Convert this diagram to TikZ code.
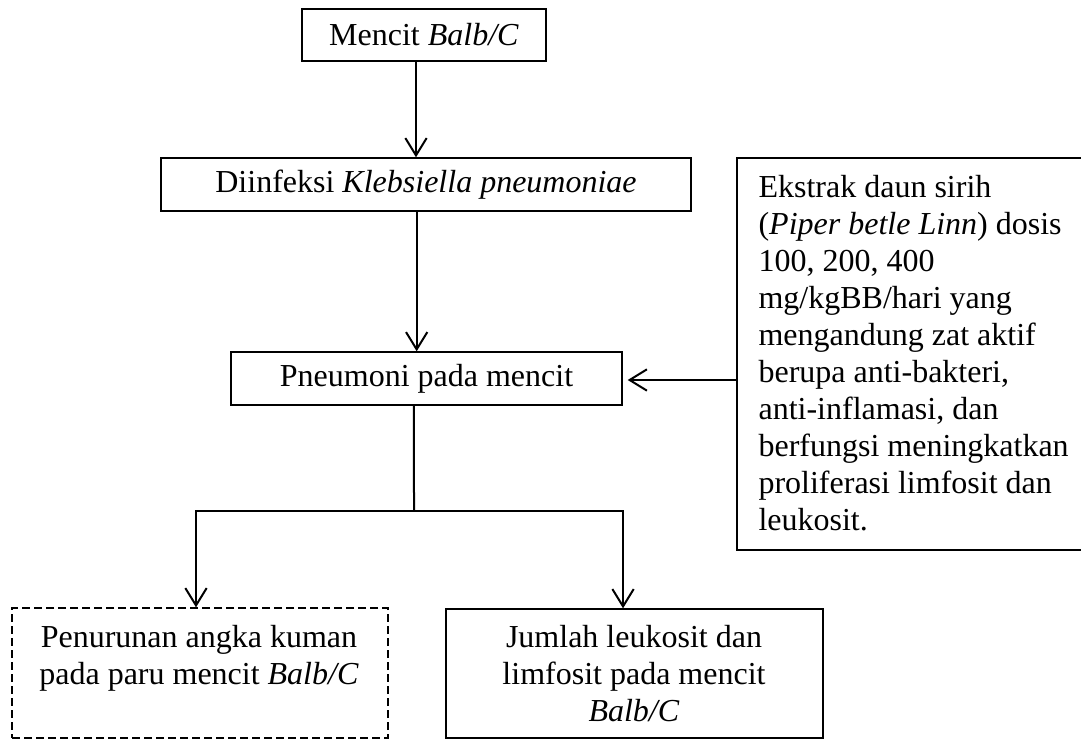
\documentclass[tikz,border=0pt]{standalone}
\usepackage{fontspec}
\setmainfont{Liberation Serif}
\usetikzlibrary{arrows.meta}
\tikzset{
  box/.style={draw, line width=0.5pt, inner sep=0pt, font=\fontsize{12}{13.875}\selectfont},
  dbox/.style={box, dash pattern=on 3pt off 1.5pt},
  txt/.style={inner sep=0pt, font=\fontsize{12}{13.875}\selectfont},
  arr/.style={line width=0.75pt, -{Straight Barb[length=6.5pt,width=8pt]}},
  link/.style={line width=0.75pt}
}
\begin{document}
\begin{tikzpicture}[x=0.375pt,y=-0.375pt]
\useasboundingbox (0,0) rectangle (1081,740);
% boxes
\node[box, minimum width=91.5pt, minimum height=19.5pt] (b1) at (424,35) {Mencit \textit{Balb/C}};
\node[box, minimum width=198.75pt, minimum height=19.9pt] (b2) at (426,184.5) {Diinfeksi \textit{Klebsiella pneumoniae}};
\node[box, minimum width=146.6pt, minimum height=19.9pt] (b3) at (426.5,378.5) {Pneumoni pada mencit};
\node[box, minimum width=136.1pt, minimum height=147pt] (ext) at (918.5,354) {};
\node[dbox, minimum width=141pt, minimum height=48.75pt] (lb) at (200,673) {};
\node[box, minimum width=141.4pt, minimum height=48.4pt] (rb) at (634.5,673.5) {};
% texts
\node[txt, anchor=base west] (extt) at (758,198) {\begin{tabular}[t]{@{}l@{}}
Ekstrak daun sirih\\
(\textit{Piper betle Linn}) dosis\\
100, 200, 400\\
mg/kgBB/hari yang\\
mengandung zat aktif\\
berupa anti-bakteri,\\
anti-inflamasi, dan\\
berfungsi meningkatkan\\
proliferasi limfosit dan\\
leukosit.
\end{tabular}};
\node[txt, anchor=base] (lbt) at (199,647) {\begin{tabular}[t]{@{}c@{}}
Penurunan angka kuman\\
pada paru mencit \textit{Balb/C}
\end{tabular}};
\node[txt, anchor=base] (rbt) at (634,647) {\begin{tabular}[t]{@{}c@{}}
Jumlah leukosit dan\\
limfosit pada mencit\\
\textit{Balb/C}
\end{tabular}};
% connectors
\draw[arr] ([xshift=-3pt]b1.south) -- ([xshift=-3pt]b1.south |- b2.north);
\draw[arr] ([xshift=-3.5pt]b2.south) -- ([xshift=-3.5pt]b2.south |- b3.north);
\draw[arr] (ext.west |- 0,380) -- ([xshift=1.9pt]b3.east |- 0,380);
\coordinate (j) at (414,511);
\draw[link] ([xshift=-4.7pt]b3.south) -- (j);
\draw[arr] (j) -| ([xshift=-1.5pt]lb.north);
\draw[arr] (j) -| ([xshift=-4.3pt]rb.north);
\end{tikzpicture}
\end{document}
